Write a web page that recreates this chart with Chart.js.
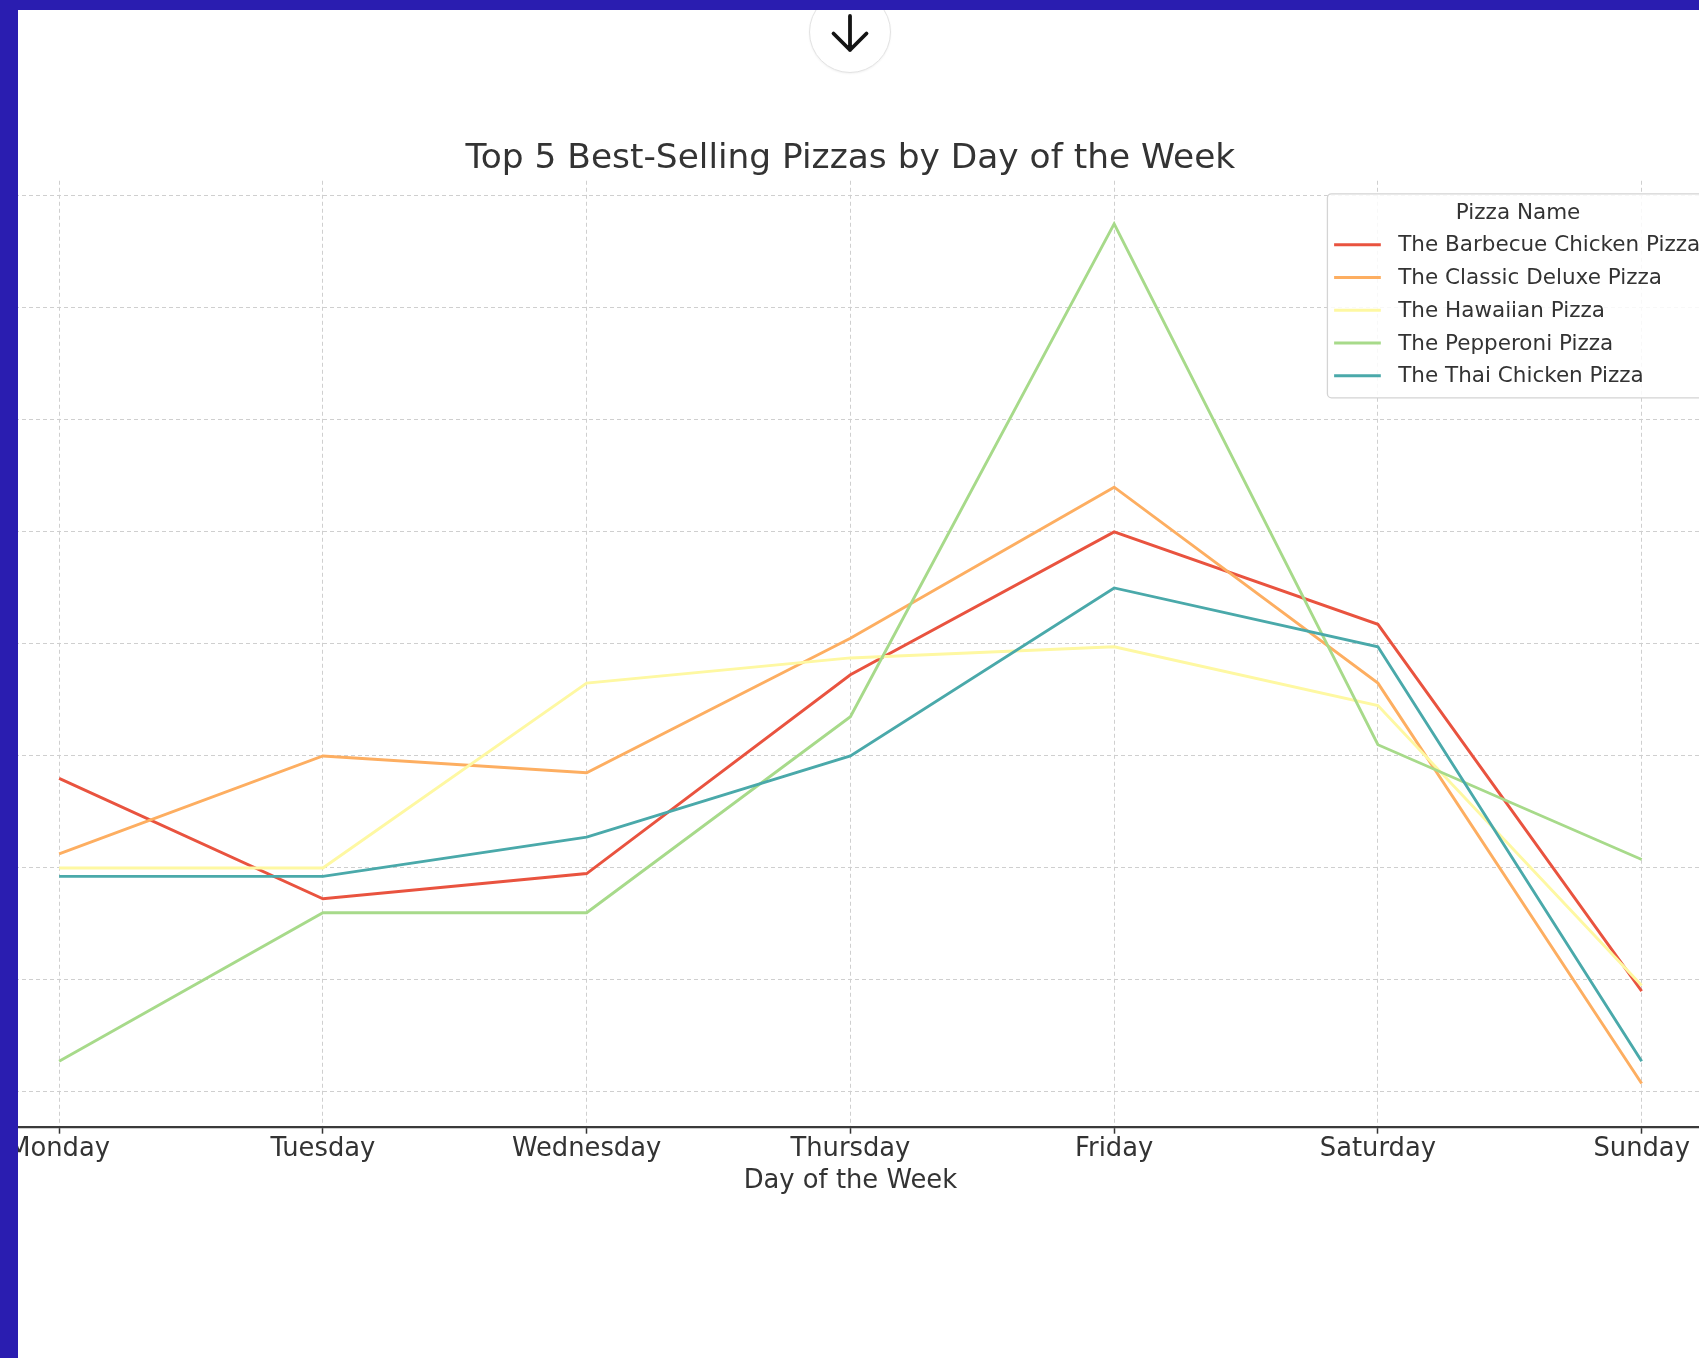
<!DOCTYPE html>
<html>
<head>
<meta charset="utf-8">
<script src="https://cdn.jsdelivr.net/npm/chart.js@4.4.1/dist/chart.umd.min.js"></script>
<style>
  html, body { margin: 0; padding: 0; background: #fff; overflow: hidden; }
  body { width: 1699px; height: 1358px; position: relative; }
  #wrap { position: absolute; left: -100px; top: 0; width: 1900px; height: 1358px; }
  .band-top { position: absolute; left: 0; top: 0; width: 1699px; height: 10px; background: #2a1db0; z-index: 10; }
  .band-left { position: absolute; left: 0; top: 0; width: 18px; height: 1358px; background: #2a1db0; z-index: 10; }
  #scroll-btn { position: absolute; left: 809px; top: -9px; width: 80px; height: 80px; border-radius: 50%;
    border: 1.5px solid #e2e2e2; background: #fff; z-index: 5; box-shadow: 0 1px 2px rgba(0,0,0,0.05); }
  #scroll-btn svg { position: absolute; left: 0; top: 0; }
</style>
</head>
<body>
<div id="wrap"><canvas id="pizzaChart" width="1900" height="1358"></canvas></div>
<div id="scroll-btn">
  <svg width="80" height="80" viewBox="0 0 80 80">
    <path d="M40 24 L40 58 M23.5 41.5 L40 58 L56.5 41.5" fill="none" stroke="#141414" stroke-width="3.8" stroke-linecap="round" stroke-linejoin="round"/>
  </svg>
</div>
<div class="band-top"></div>
<div class="band-left"></div>
<script>
// values (no y labels are shown, so units are nominal)
const days = ['Monday', 'Tuesday', 'Wednesday', 'Thursday', 'Friday', 'Saturday', 'Sunday'];
const pizzaNames = ['The Barbecue Chicken Pizza', 'The Classic Deluxe Pizza', 'The Hawaiian Pizza',
    'The Pepperoni Pizza', 'The Thai Chicken Pizza'];
const barbecue  = [356, 334.5, 339, 374.5, 400, 383.5, 318];
const classic   = [342.5, 360, 357, 381, 408, 373, 301.5];
const hawaiian  = [340, 340, 373, 377.5, 379.5, 369, 319];
const pepperoni = [305.5, 332, 332, 367, 455, 362, 341.5];
const thai      = [338.5, 338.5, 345.5, 360, 390, 379.5, 305.5];
const yTicks = [300, 320, 340, 360, 380, 400, 420, 440, 460];
const lineColors = ['#e9533f', '#fdae61', '#fef8a2', '#a7da8a', '#4aa9aa'];

const seriesList = [barbecue, classic, hawaiian, pepperoni, thai];
const textColor = '#333333';
const gridColor = '#cfcfcf';

// matplotlib-style boxed legend in the upper right of the plot
const boxLegend = {
    id: 'boxLegend',
    afterDraw(chart) {
        const ctx = chart.ctx;
        const area = chart.chartArea;
        const fontSize = 21.5;
        ctx.save();
        ctx.font = fontSize + 'px "DejaVu Sans"';
        let maxW = 0;
        chart.data.datasets.forEach(ds => { maxW = Math.max(maxW, ctx.measureText(ds.label).width); });
        const right = area.right - 12;
        const top = area.top + 13;
        const width = 6.7 + 46.7 + 17.4 + maxW + 8.6;
        const left = right - width;
        const height = 204;

        ctx.beginPath();
        ctx.roundRect(left, top, width, height, 4);
        ctx.fillStyle = 'rgba(255,255,255,0.85)';
        ctx.fill();
        ctx.lineWidth = 1.3;
        ctx.strokeStyle = '#d4d4d4';
        ctx.stroke();

        ctx.fillStyle = textColor;
        ctx.textBaseline = 'middle';
        ctx.textAlign = 'center';
        ctx.fillText('Pizza Name', left + width / 2, top + 20);

        ctx.textAlign = 'left';
        chart.data.datasets.forEach((ds, i) => {
            const y = top + 51 + i * 32.75;
            ctx.beginPath();
            ctx.moveTo(left + 6.7, y);
            ctx.lineTo(left + 6.7 + 46.7, y);
            ctx.strokeStyle = ds.borderColor;
            ctx.lineWidth = 3;
            ctx.stroke();
            ctx.fillStyle = textColor;
            ctx.fillText(ds.label, left + 6.7 + 46.7 + 17.4, y + 1);
        });
        ctx.restore();
    }
};

document.addEventListener('DOMContentLoaded', () => {
    const ctx = document.getElementById('pizzaChart').getContext('2d');
    Chart.defaults.font.family = '"DejaVu Sans", sans-serif';
    Chart.defaults.color = textColor;

    const datasets = seriesList.map((vals, i) => ({
        label: pizzaNames[i],
        data: days.map((d, j) => ({ x: j, y: vals[j] })),
        borderColor: lineColors[i],
        backgroundColor: lineColors[i],
        borderWidth: 2.9,
        pointRadius: 0,
        tension: 0,
        fill: false,
        order: seriesList.length - i
    }));

    new Chart(ctx, {
        type: 'line',
        data: { datasets: datasets },
        options: {
            responsive: false,
            animation: false,
            events: [],
            layout: { padding: { top: 0, left: 80, right: 79.2, bottom: 154.4 } },
            plugins: {
                legend: { display: false },
                tooltip: { enabled: false },
                title: {
                    display: true,
                    text: 'Top 5 Best-Selling Pizzas by Day of the Week',
                    color: textColor,
                    font: { size: 34.4, weight: 'normal' },
                    padding: { top: 138.5, bottom: 1 }
                }
            },
            scales: {
                x: {
                    type: 'linear',
                    min: -0.3,
                    max: 6.3,
                    afterBuildTicks: (scale) => { scale.ticks = days.map((d, i) => ({ value: i })); },
                    ticks: {
                        callback: (v) => days[v],
                        font: { size: 25.8 },
                        color: textColor,
                        padding: 0,
                        maxRotation: 0,
                        autoSkip: false
                    },
                    grid: {
                        color: gridColor,
                        lineWidth: 1,
                        tickLength: 7,
                        tickColor: '#333',
                        tickWidth: 1.5,
                        tickBorderDash: []
                    },
                    border: { display: true, color: '#3a3a3a', width: 2.2, dash: [4, 3] },
                    title: {
                        display: true,
                        text: 'Day of the Week',
                        color: textColor,
                        font: { size: 25.8 },
                        padding: { top: 1.5, bottom: 6.5 }
                    }
                },
                y: {
                    min: 293.8,
                    max: 462.7,
                    afterBuildTicks: (scale) => { scale.ticks = yTicks.map(v => ({ value: v })); },
                    ticks: { display: false },
                    grid: { color: gridColor, lineWidth: 1, drawTicks: false },
                    border: { display: false, dash: [4, 3] }
                }
            }
        },
        plugins: [boxLegend]
    });
});
</script>
</body>
</html>
